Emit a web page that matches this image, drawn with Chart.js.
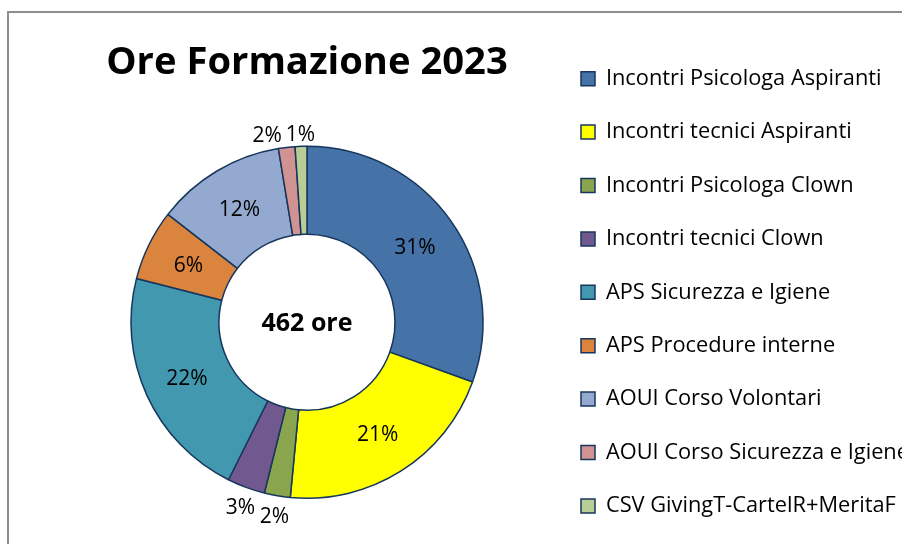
<!DOCTYPE html>
<html>
<head>
<meta charset="utf-8">
<script src="https://cdn.jsdelivr.net/npm/chart.js@4.4.1/dist/chart.umd.min.js"></script>
<style>
  html, body { margin: 0; padding: 0; background: #fff; overflow: hidden; }
  #frame { position: absolute; left: 7px; top: 11px; width: 1100px; height: 700px; border: 2px solid #8e8e8e; }
  #wrap { position: absolute; left: 9px; top: 11px; width: 1000px; height: 560px; }
</style>
</head>
<body>
<div id="frame"></div>
<div id="wrap"><canvas id="chartOre"></canvas></div>
<script>
// dati (ore per attività, totale 462)
const labels = [
  'Incontri Psicologa Aspiranti',
  'Incontri tecnici Aspiranti',
  'Incontri Psicologa Clown',
  'Incontri tecnici Clown',
  'APS Sicurezza e Igiene',
  'APS Procedure interne',
  'AOUI Corso Volontari',
  'AOUI Corso Sicurezza e Igiene',
  'CSV GivingT-CartelR+MeritaF'
];
const hours = [141, 97, 11, 16, 100, 30, 55, 7, 5];
const colors = ['#4572A7', '#FFFF00', '#89A54E', '#71588F', '#4198AF', '#DB843D', '#93A9CF', '#D19392', '#B9CD96'];
const title = 'Ore Formazione 2023';
const centerText = '462 ore';

const FONT = '"Open Sans"';
const legendSize = 21.8;
const legendPad = 31.6;
const boxSize = 14;

// misura la voce di legenda più lunga per piazzare la legenda
const mctx = document.createElement('canvas').getContext('2d');
mctx.font = legendSize + 'px ' + FONT;
const maxText = Math.max(...labels.map(l => mctx.measureText(l).width));
const legendWidth = legendPad + boxSize + legendSize / 2 + maxText + 10;
const canvasWidth = 1000;
const legendLeft = 540.4; // in coordinate canvas
const padRight = canvasWidth - legendLeft - legendWidth;

// percentuali sulle fette + testo al centro
const sliceLabels = {
  id: 'sliceLabels',
  afterDatasetsDraw(chart) {
    const ctx = chart.ctx;
    const meta = chart.getDatasetMeta(0);
    const total = hours.reduce((a, b) => a + b, 0);
    const outside = [];
    ctx.save();
    ctx.font = '21px ' + FONT;
    ctx.fillStyle = '#000';
    ctx.textAlign = 'center';
    ctx.textBaseline = 'middle';
    meta.data.forEach((arc, i) => {
      const p = arc.getProps(['x', 'y', 'startAngle', 'endAngle', 'innerRadius', 'outerRadius'], true);
      const pct = Math.round(hours[i] / total * 100);
      const text = pct + '%';
      const mid = (p.startAngle + p.endAngle) / 2;
      const cos = Math.cos(mid), sin = Math.sin(mid);
      if (pct >= 4) {
        const r = (p.innerRadius + p.outerRadius) / 2;
        ctx.fillText(text, p.x + r * cos, p.y + r * sin + 1.5);
      } else {
        const w = ctx.measureText(text).width, h = 16;
        const tx = Math.abs(cos) > 1e-6 ? (w / 2) / Math.abs(cos) : Infinity;
        const ty = Math.abs(sin) > 1e-6 ? (h / 2) / Math.abs(sin) : Infinity;
        const r = p.outerRadius + 8 + Math.min(tx, ty);
        outside.push({ text, x: p.x + r * cos, y: p.y + r * sin + 5, w, h, cx: p.x });
      }
    });
    // prima le etichette vicine all'asse verticale, le altre si spostano di lato
    outside.sort((a, b) => Math.abs(a.x - a.cx) - Math.abs(b.x - b.cx));
    const placed = [];
    outside.forEach(l => {
      placed.forEach(o => {
        if (Math.abs(l.x - o.x) < (l.w + o.w) / 2 + 4 && Math.abs(l.y - o.y) < (l.h + o.h) / 2) {
          l.x = l.x < o.x ? o.x - (l.w + o.w) / 2 - 4 : o.x + (l.w + o.w) / 2 + 4;
        }
      });
      placed.push(l);
      ctx.fillText(l.text, l.x, l.y);
    });
    ctx.font = 'bold 25px ' + FONT;
    ctx.fillText(centerText, meta.data[0].x, meta.data[0].y + 2);
    ctx.restore();
  }
};

Chart.defaults.color = '#000';
Chart.defaults.font.family = FONT;

new Chart(document.getElementById('chartOre').getContext('2d'), {
  type: 'doughnut',
  data: {
    labels,
    datasets: [{
      data: hours,
      backgroundColor: colors,
      borderColor: '#17365D',
      borderWidth: 1.5
    }]
  },
  options: {
    responsive: true,
    maintainAspectRatio: false,
    animation: false,
    radius: 176,
    cutout: '50%',
    layout: { padding: { left: 55.6, top: 16.1, right: padRight, bottom: 13.5 } },
    plugins: {
      title: {
        display: true,
        text: title,
        fullSize: false,
        font: { size: 38.2, weight: 'bold', lineHeight: 1.2 },
        padding: { top: 12.7, bottom: 1.3 }
      },
      legend: {
        position: 'right',
        labels: {
          boxWidth: boxSize,
          boxHeight: boxSize,
          padding: legendPad,
          font: { size: legendSize }
        }
      },
      tooltip: { enabled: false }
    }
  },
  plugins: [sliceLabels]
});
</script>
</body>
</html>
